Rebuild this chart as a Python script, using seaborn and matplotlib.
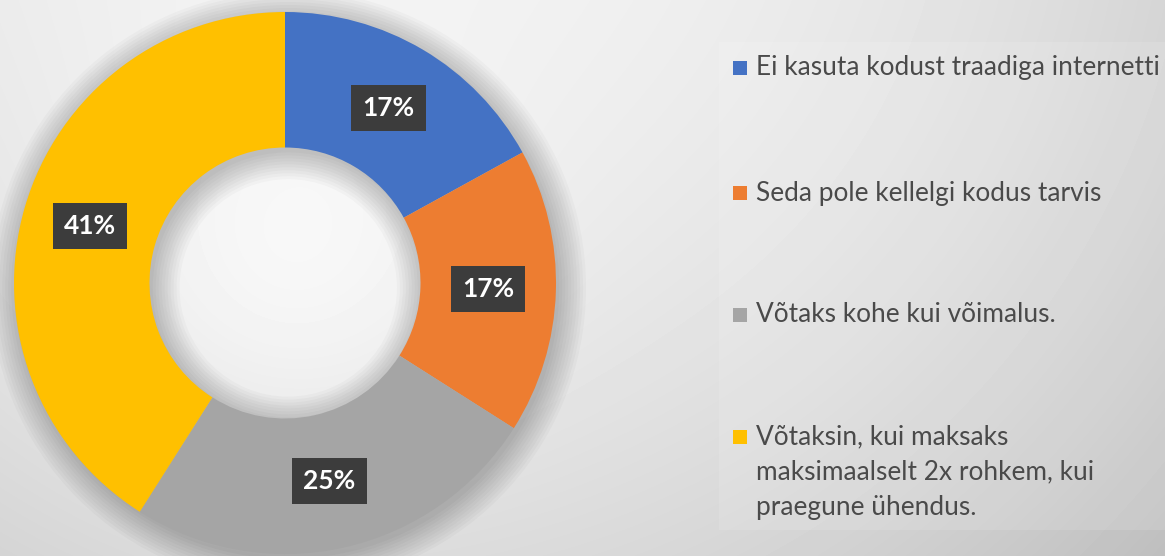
import numpy as np
import seaborn as sns
import matplotlib.pyplot as plt
from matplotlib.patches import Wedge, Rectangle

# chart data
labels = ["Ei kasuta kodust traadiga internetti",
          "Seda pole kellelgi kodus tarvis",
          "Võtaks kohe kui võimalus.",
          "Võtaksin, kui maksaks\nmaksimaalselt 2x rohkem, kui\npraegune ühendus."]
shares = [17, 17, 25, 41]
colors = ["#4472C4", "#ED7D31", "#A5A5A5", "#FFC000"]

sns.set_theme(style="white")
plt.rcParams['font.family'] = ['Lato', 'DejaVu Sans']
palette = sns.color_palette(colors)

W, H = 1165, 556
fig = plt.figure(figsize=(W / 100, H / 100), dpi=100)

# soft grey background gradient, brightest around the donut hole
bg = fig.add_axes([0, 0, 1, 1])
yy, xx = np.mgrid[0:H, 0:W]
dist = np.hypot(xx - 380, yy - 180)
glow = np.exp(-(np.hypot(xx - 285, yy - 283) / 190) ** 2)
val = 0.955 - 0.09 * (dist / 700) ** 2 - 0.07 * (yy / H) + 0.05 * glow
bg.imshow(np.clip(val, 0, 1), cmap="gray", vmin=0, vmax=1, aspect="auto",
          extent=[0, W, H, 0])
bg.set_xlim(0, W)
bg.set_ylim(H, 0)
bg.axis('off')

# legend panel
fig.patches.append(Rectangle((719 / W, (H - 530) / H), (W - 719) / W, 488 / H,
                             transform=fig.transFigure, facecolor="white",
                             alpha=0.12, edgecolor="none", zorder=1))

# donut
cx, cy, r = 285, H - 283, 271
half = 1.12 * r
ax = fig.add_axes([(cx - half) / W, (cy - half) / H, 2 * half / W, 2 * half / H])
ax.set_aspect('equal')
ax.axis('off')

# diffuse shadow around the ring
for k in range(10):
    ax.add_patch(Wedge((0.012, -0.018), 1.0 + 0.011 * k, 0, 360,
                       width=0.5 + 0.022 * k, facecolor="black",
                       alpha=0.022, edgecolor="none", zorder=0))

wedges, texts, autotexts = ax.pie(
    shares, colors=palette, startangle=90, counterclock=False, radius=1.0,
    wedgeprops=dict(width=0.5, edgecolor="none"),
    autopct=lambda p: f"{p:.0f}%", pctdistance=0.75,
    textprops=dict(color="white", fontsize=19, fontweight="bold"))
for t in autotexts:
    t.set_bbox(dict(boxstyle="square,pad=0.42", facecolor="#3c3c3c",
                    edgecolor="none"))
ax.set_xlim(-1.12, 1.12)
ax.set_ylim(-1.12, 1.12)

# legend entries, drawn by hand so the marker sits on the first line
tops = [68, 193, 315, 437]
line_h = 35
for lab, col, ytop in zip(labels, palette, tops):
    fig.patches.append(Rectangle((733 / W, (H - ytop - 7) / H), 14 / W, 14 / H,
                                 transform=fig.transFigure, facecolor=col,
                                 edgecolor="none", zorder=3))
    for j, line in enumerate(lab.split("\n")):
        fig.text(756 / W, (H - ytop - j * line_h) / H, line, va="center",
                 ha="left", fontsize=18.9, color="#4a4a4a", zorder=4)

fig.savefig("out.png", dpi=100)
